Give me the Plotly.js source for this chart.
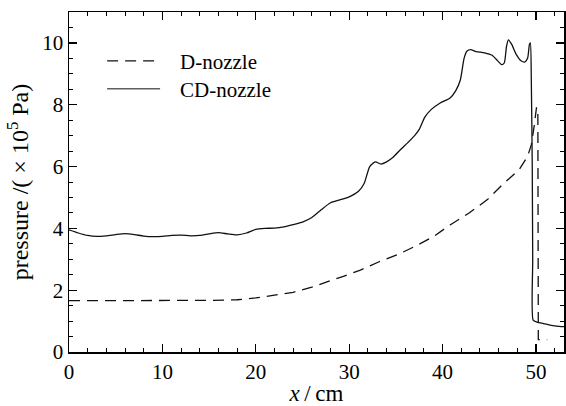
<!DOCTYPE html>
<html>
<head>
<meta charset="utf-8">
<script src="https://cdn.plot.ly/plotly-3.0.1.min.js"></script>
<style>html,body{margin:0;padding:0;background:#fff;}#chart{width:566px;height:406px;}</style>
</head>
<body>
<div id="chart"></div>
<script>
// CD-nozzle (solid)
const xCD = [0,1,2,3,4,5,6,7,8,9,10,11,12,13,14,15,16,17,18,19,20,21,22,23,24,25,26,27,28,29,30,31,31.6,32.2,32.8,33.4,34,34.7,35.5,36.2,37,37.5,38.1,38.8,39.7,40.8,41.4,41.9,42.3,42.6,43,43.6,44.5,45.3,45.9,46.3,46.6,46.85,47.05,47.4,47.9,48.4,48.8,49.1,49.3,49.4,49.5,49.6,49.65,49.7,50.1,50.8,51.5,52.2,53];
const pCD = [3.95,3.85,3.77,3.74,3.76,3.8,3.83,3.8,3.75,3.73,3.74,3.77,3.78,3.76,3.77,3.82,3.86,3.82,3.79,3.85,3.97,4.0,4.01,4.05,4.12,4.2,4.35,4.6,4.83,4.92,5.02,5.2,5.45,6.0,6.15,6.08,6.15,6.3,6.55,6.75,7.0,7.2,7.6,7.85,8.05,8.22,8.45,8.8,9.5,9.73,9.78,9.72,9.68,9.6,9.42,9.3,9.35,9.9,10.1,9.95,9.62,9.42,9.38,9.5,9.95,10.0,8.8,6.0,3.0,1.03,0.97,0.92,0.87,0.84,0.82];
// D-nozzle (dashed)
const xD = [0,5,10,15,18,20,22,24,26,28,29.3,31.2,33.2,35.1,37,39,40.8,42.8,44.8,46.6,48.2,49.1,49.5,49.8,50.05,50.2,50.25,51.2];
const pD = [1.66,1.66,1.66,1.67,1.69,1.75,1.84,1.93,2.1,2.3,2.44,2.65,2.92,3.14,3.41,3.73,4.11,4.49,4.93,5.47,5.9,6.33,6.7,7.3,7.9,7.9,0.4,0.4];
const names = ['D-nozzle','CD-nozzle'];
const xTicks = [0,10,20,30,40,50];
const yTicks = [0,2,4,6,8,10];

const serif = 'Liberation Serif';
const dashD = '11px,7px';
const traces = [
  {x: xD, y: pD, name: names[0], mode: 'lines', line: {color: '#111', width: 1.3, dash: dashD}, showlegend: false},
  {x: xCD, y: pCD, name: names[1], mode: 'lines', line: {color: '#111', width: 1.3, shape: 'spline', smoothing: 0.6}, showlegend: false}
];
// legend key (paper coordinates)
const legY = [0.856, 0.774];
const legendShapes = [
  {type: 'line', xref: 'paper', yref: 'paper', x0: 0.077, x1: 0.184, y0: legY[0], y1: legY[0], line: {color: '#111', width: 1.3, dash: dashD}},
  {type: 'line', xref: 'paper', yref: 'paper', x0: 0.077, x1: 0.184, y0: legY[1], y1: legY[1], line: {color: '#111', width: 1}}
];
const legendText = names.map((n, i) => ({
  text: n, xref: 'paper', yref: 'paper', x: 0.22, y: legY[i] - 0.004, xanchor: 'left', yanchor: 'middle',
  showarrow: false, font: {family: serif, size: 21, color: '#000'}
}));
const axisCommon = {
  showline: true, linecolor: '#000', linewidth: 1.5, mirror: 'ticks',
  ticks: 'inside', ticklen: 8, tickwidth: 1.3, tickcolor: '#000',
  showgrid: false, zeroline: false,
  tickfont: {family: serif, size: 21, color: '#000'},
  minor: {ticks: 'inside', ticklen: 4, tickwidth: 1, tickcolor: '#000', showgrid: false}
};
const layout = {
  width: 566, height: 406,
  margin: {l: 69, r: 2, t: 12, b: 54},
  paper_bgcolor: '#fff', plot_bgcolor: '#fff',
  showlegend: false,
  shapes: legendShapes,
  annotations: legendText,
  xaxis: Object.assign({}, axisCommon, {
    range: [0, 53], tickmode: 'array', tickvals: xTicks, ticktext: xTicks.map(String),
    minor: Object.assign({}, axisCommon.minor, {dtick: 2, tick0: 0}),
    title: {text: '<i>x</i>\u2009/\u2009cm', font: {family: serif, size: 23, color: '#000'}, standoff: 2}
  }),
  yaxis: Object.assign({}, axisCommon, {
    range: [0, 11], tickmode: 'array', tickvals: yTicks, ticktext: yTicks.map(String),
    minor: Object.assign({}, axisCommon.minor, {dtick: 0.5, tick0: 0}),
    title: {text: 'pressure /( × 10<sup>5</sup> Pa)', font: {family: serif, size: 24, color: '#000'}, standoff: 7}
  })
};
Plotly.newPlot('chart', traces, layout, {displayModeBar: false, staticPlot: true});
</script>
</body>
</html>
